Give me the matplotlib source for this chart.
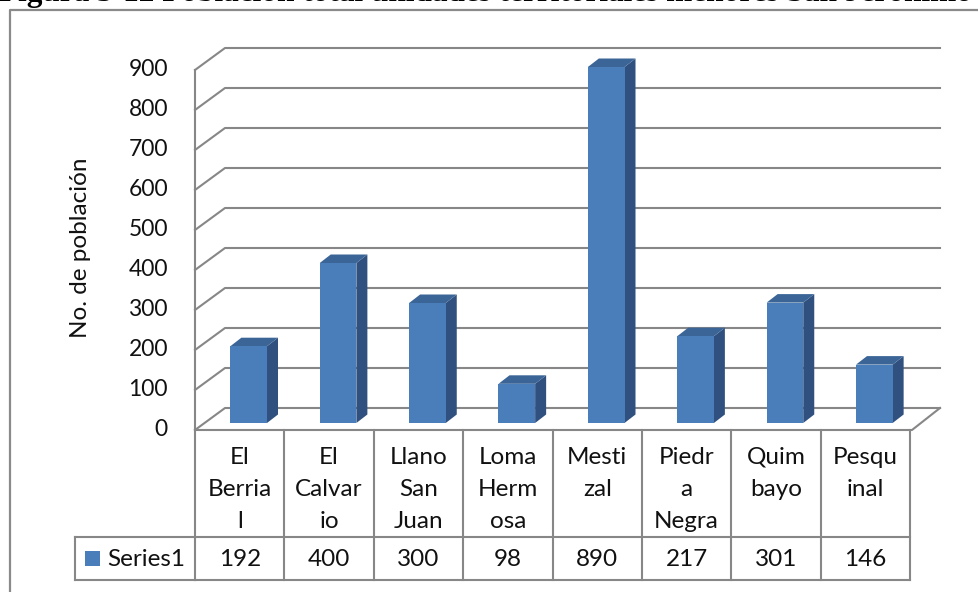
import numpy as np
import matplotlib.pyplot as plt
from matplotlib.patches import Polygon
from matplotlib.transforms import offset_copy, blended_transform_factory

# data
categories = ["El Berrial", "El Calvario", "Llano San Juan", "Loma Hermosa",
              "Mestizal", "Piedra Negra", "Quimbayo", "Pesquinal"]
# labels as they wrap inside the data table
table_labels = [["El", "Berria", "l"], ["El", "Calvar", "io"], ["Llano", "San", "Juan"],
                ["Loma", "Herm", "osa"], ["Mesti", "zal"], ["Piedr", "a", "Negra"],
                ["Quim", "bayo"], ["Pesqu", "inal"]]
values = [192, 400, 300, 98, 890, 217, 301, 146]
yticks = [0, 100, 200, 300, 400, 500, 600, 700, 800, 900]
series_name = "Series1"
ylabel = "No. de población"
title = "Figura 3-12 Población total unidades territoriales menores San Jerónimo"

W, H = 979, 592
FONT = "Lato"
TXT = "#111111"
GRID = "#878787"
FRONT, SIDE, TOP = "#4a7ebb", "#30517f", "#3b6597"

fig = plt.figure(figsize=(W / 100, H / 100), dpi=100)
bg = fig.add_axes([0, 0, 1, 1])
bg.set_xlim(0, W)
bg.set_ylim(H, 0)
bg.axis("off")

# front plane of the plot: x 195..910 px, value 0 at y=430, 900 at y=70
ax = fig.add_axes([195 / W, (H - 430) / H, 715 / W, 360 / H])
ax.set_xlim(0, len(values))
ax.set_ylim(0, 900)
ax.axis("off")
ax.patch.set_alpha(0)

fig.canvas.draw()

def px(x, v, dx=0.0, dy=0.0):
    d = ax.transData.transform((x, v))
    return (d[0] + dx, H - d[1] - dy)

BACK = (30, 22)
BAR_OFF = (9, 7)
BAR_DEPTH = (11, 8.5)
bar_w = 0.41

# outer frame
bg.plot([10, 10, W + 5], [H + 5, 10, 10], color="#8a8a8a", lw=1.6, solid_capstyle="butt")

# title (cut by the top edge)
bg.text(-1, 1, title, ha="left", va="baseline", fontsize=22.5,
        family="Liberation Serif", weight="bold", color="black")

# gridlines on the back wall
n = len(values)
for v in yticks:
    p0 = px(0, v)
    p1 = px(0, v, *BACK)
    p2 = px(n, v, *BACK)
    bg.plot([p0[0], p1[0], p2[0]], [p0[1], p1[1], p2[1]], color=GRID, lw=1.5, zorder=1)
    ax.annotate(str(v), xy=(0, v), xytext=(-27, 0), textcoords="offset pixels",
                ha="right", va="center", fontsize=16.5, family=FONT, color=TXT)

# left front edge and floor
a, b = px(0, 0), px(0, 900)
bg.plot([a[0], b[0]], [a[1], b[1]], color=GRID, lw=1.5, zorder=1)
a, b, c = px(0, 0), px(n, 0), px(n, 0, *BACK)
bg.plot([a[0], b[0] + 2, c[0]], [a[1], b[1], c[1]], color=GRID, lw=1.5, zorder=1)

# bars
bar_tr = offset_copy(ax.transData, fig=fig, x=BAR_OFF[0], y=BAR_OFF[1], units="dots")
xs = np.arange(n) + 0.5
ax.bar(xs, values, width=bar_w, color=FRONT, transform=bar_tr, zorder=3, clip_on=False)
dx2, dy2 = BAR_OFF[0] + BAR_DEPTH[0], BAR_OFF[1] + BAR_DEPTH[1]
for xc, v in zip(xs, values):
    x0, x1 = xc - bar_w / 2, xc + bar_w / 2
    side = [px(x1, 0, *BAR_OFF), px(x1, 0, dx2, dy2), px(x1, v, dx2, dy2), px(x1, v, *BAR_OFF)]
    top = [px(x0, v, *BAR_OFF), px(x1, v, *BAR_OFF), px(x1, v, dx2, dy2), px(x0, v, dx2, dy2)]
    bg.add_patch(Polygon(side, closed=True, facecolor=SIDE, edgecolor="none", zorder=4))
    bg.add_patch(Polygon(top, closed=True, facecolor=TOP, edgecolor="none", zorder=4))

# y label
bg.text(81, 248, ylabel, rotation=90, ha="center", va="center", fontsize=17.5,
        family=FONT, color=TXT)

# data table
tr = blended_transform_factory(ax.transData, bg.transData)
row1, row2, row3 = 430, 537, 580
for i in range(n + 1):
    ax.plot([i, i], [row1, row3], transform=tr, color=GRID, lw=1.5, clip_on=False)
ax.plot([0, n], [row2, row2], transform=tr, color=GRID, lw=1.5, clip_on=False)
ax.plot([0, n], [row3, row3], transform=tr, color=GRID, lw=1.5, clip_on=False)
bg.plot([75, 195], [row2, row2], color=GRID, lw=1.5)
bg.plot([75, 195], [row3, row3], color=GRID, lw=1.5)
bg.plot([75, 75], [row2, row3], color=GRID, lw=1.5)

for xc, lines, v in zip(xs, table_labels, values):
    for k, line in enumerate(lines):
        ax.text(xc, 457 + 32.5 * k, line, transform=tr, ha="center", va="center",
                fontsize=17.5, family=FONT, color=TXT)
    ax.text(xc, 559, str(v), transform=tr, ha="center", va="center",
            fontsize=17.5, family=FONT, color=TXT)

# legend key in the table
bg.add_patch(plt.Rectangle((85, 551), 15, 15, facecolor=FRONT, edgecolor="none"))
bg.text(107, 559, series_name, ha="left", va="center", fontsize=17.5, family=FONT, color=TXT)

fig.savefig("out.png", dpi=100)
